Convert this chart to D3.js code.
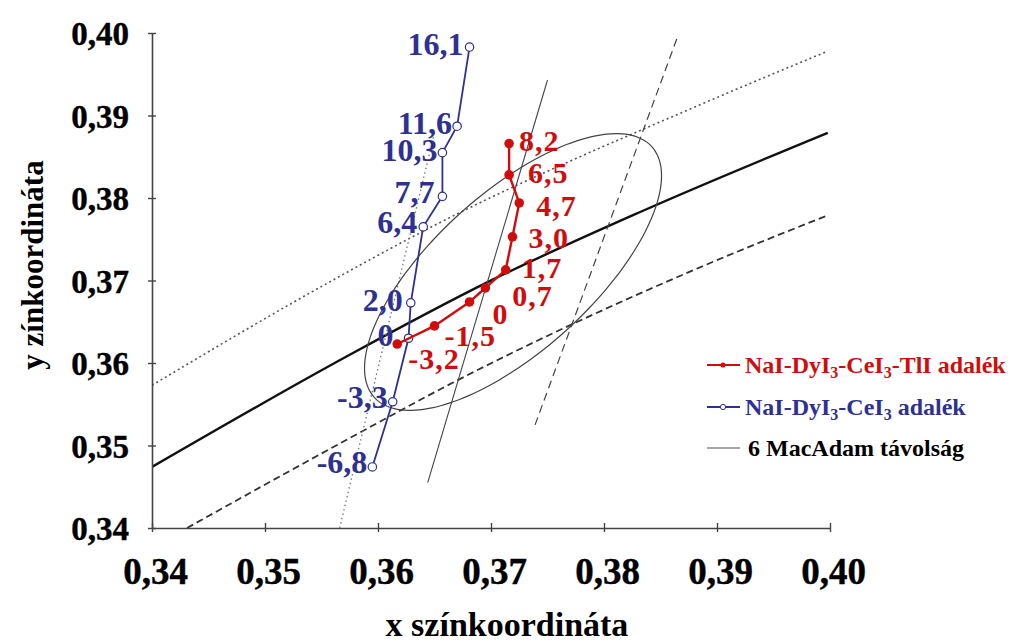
<!DOCTYPE html>
<html lang="hu">
<head>
<meta charset="utf-8">
<title>Színkoordináták</title>
<script src="https://cdnjs.cloudflare.com/ajax/libs/d3/7.8.5/d3.min.js"></script>
<style>
  body { margin: 0; background: #fff; }
  svg { display: block; font-family: "Liberation Serif", "Times New Roman", serif; font-weight: bold; }
  .tick text { font-family: "Liberation Serif", serif; font-weight: bold; fill: #000; stroke: #000; stroke-width: 0.4; }
</style>
</head>
<body>
<div id="chart"></div>
<script>
// tick values
const xTicks = [0.34, 0.35, 0.36, 0.37, 0.38, 0.39, 0.40];
const yTicks = [0.34, 0.35, 0.36, 0.37, 0.38, 0.39, 0.40];

// NaI-DyI3-CeI3-TlI adalék
const redX = [0.3617, 0.3650, 0.3681, 0.3695, 0.3713, 0.3719, 0.3725, 0.3716, 0.3716];
const redY = [0.3623, 0.3645, 0.3674, 0.3691, 0.3713, 0.3753, 0.3794, 0.3828, 0.3866];
const redLabels = ["-3,2", "-1,5", "0", "0,7", "1,7", "3,0", "4,7", "6,5", "8,2"];

// NaI-DyI3-CeI3 adalék
const blueX = [0.3595, 0.3613, 0.3627, 0.3629, 0.3640, 0.3657, 0.3657, 0.3670, 0.3681];
const blueY = [0.3474, 0.3553, 0.3630, 0.3673, 0.3765, 0.3802, 0.3855, 0.3887, 0.3983];
const blueLabels = ["-6,8", "-3,3", "0", "2,0", "6,4", "7,7", "10,3", "11,6", "16,1"];

// Planck-görbe és a ±Duv vonalak
const locusX = [0.3400, 0.3575, 0.3697, 0.3832, 0.3998];
const locusY = [0.3474, 0.3610, 0.3698, 0.3783, 0.3879];
const upperX = [0.3400, 0.3549, 0.3646, 0.3885, 0.3998];
const upperY = [0.3573, 0.3692, 0.3764, 0.3913, 0.3978];
const lowerX = [0.3431, 0.3575, 0.3666, 0.3885, 0.3998];
const lowerY = [0.3400, 0.3509, 0.3576, 0.3716, 0.3779];

// izoterm vonalak [x1, y1, x2, y2]
const isoDotted = [0.3566, 0.3400, 0.3650, 0.3879];
const isoSolid = [0.3644, 0.3455, 0.3750, 0.3943];
const isoDashed = [0.3739, 0.3525, 0.3865, 0.3995];

// 6 MacAdam ellipszis: középpont és két konjugált félátmérő
const ellipseCenter = [0.37195, 0.37103];
const ellipseU = [0.01228, 0.01519];
const ellipseV = [-0.00468, 0.00711];

// label offsets (px)
const redLabelDx = [11, 10, 23, 27, 16, 16, 17, 19, 10];
const redLabelDy = [25, 20, 22, 18, 8, 11, 13, 8, 7];
const blueLabelDx = [-5, -5, -15, -8, -6, -8, -5, -5, -6];
const blueLabelDy = [6, 6, 8, 8, 6, 7, 8, 8, 8];

const W = 1028, H = 642;
const red = "#d00d0d", blue = "#2e3192";

const svg = d3.select("#chart").append("svg")
  .attr("width", W).attr("height", H)
  .attr("viewBox", "0 0 " + W + " " + H);

const x = d3.scaleLinear().domain([0.34, 0.40]).range([152, 830]);
const y = d3.scaleLinear().domain([0.34, 0.40]).range([528, 33]);
const fmt = d => d3.format(".2f")(d).replace(".", ",");

svg.append("clipPath").attr("id", "plot")
  .append("rect").attr("x", 152).attr("y", 20).attr("width", 700).attr("height", 508);

// background lines
const bg = svg.append("g").attr("clip-path", "url(#plot)");
const curve = d3.line().x(d => x(d[0])).y(d => y(d[1])).curve(d3.curveMonotoneX);

bg.append("path").attr("d", curve(d3.zip(upperX, upperY)))
  .attr("fill", "none").attr("stroke", "#555").attr("stroke-width", 1.6).attr("stroke-dasharray", "2,3");
bg.append("path").attr("d", curve(d3.zip(lowerX, lowerY)))
  .attr("fill", "none").attr("stroke", "#333").attr("stroke-width", 1.8).attr("stroke-dasharray", "7,4");
bg.append("path").attr("d", curve(d3.zip(locusX, locusY)))
  .attr("fill", "none").attr("stroke", "#111").attr("stroke-width", 2.4);

const iso = [
  {v: isoDotted, stroke: "#777", w: 1.3, dash: "1.5,3"},
  {v: isoSolid, stroke: "#444", w: 1.1, dash: null},
  {v: isoDashed, stroke: "#444", w: 1.2, dash: "8,5"}
];
bg.selectAll("line.iso").data(iso).join("line").attr("class", "iso")
  .attr("x1", d => x(d.v[0])).attr("y1", d => y(d.v[1]))
  .attr("x2", d => x(d.v[2])).attr("y2", d => y(d.v[3]))
  .attr("stroke", d => d.stroke).attr("stroke-width", d => d.w)
  .attr("stroke-dasharray", d => d.dash);

const ellPts = d3.range(0, 360, 4).map(a => {
  const t = a * Math.PI / 180;
  return [ellipseCenter[0] + Math.cos(t) * ellipseU[0] + Math.sin(t) * ellipseV[0],
          ellipseCenter[1] + Math.cos(t) * ellipseU[1] + Math.sin(t) * ellipseV[1]];
});
bg.append("path")
  .attr("d", d3.line().x(d => x(d[0])).y(d => y(d[1])).curve(d3.curveCardinalClosed)(ellPts))
  .attr("fill", "none").attr("stroke", "#444").attr("stroke-width", 1.2);

// axes
const gx = svg.append("g").attr("transform", "translate(0,528)")
  .call(d3.axisBottom(x).tickValues(xTicks).tickFormat(fmt).tickSizeOuter(0).tickSizeInner(0));
gx.select(".domain").attr("stroke", "#444").attr("stroke-width", 1.6);
gx.selectAll(".tick line").attr("y1", -5).attr("y2", 4).attr("stroke", "#444").attr("stroke-width", 1.4);
gx.selectAll(".tick text").attr("y", 56).attr("dy", null).attr("dx", 3).attr("font-size", 37);

const gy = svg.append("g").attr("transform", "translate(152,0)")
  .call(d3.axisLeft(y).tickValues(yTicks).tickFormat(fmt).tickSizeOuter(0).tickSizeInner(0));
gy.select(".domain").attr("stroke", "#444").attr("stroke-width", 1.6);
gy.selectAll(".tick line").attr("x1", -4).attr("x2", 4).attr("stroke", "#444").attr("stroke-width", 1.4);
gy.selectAll(".tick text").attr("x", -23).attr("dy", "0.36em").attr("font-size", 33);

// axis titles
svg.append("text").attr("x", 507).attr("y", 636).attr("text-anchor", "middle")
  .attr("font-size", 34).text("x színkoordináta");
svg.append("text").attr("transform", "translate(43,265) rotate(-90)").attr("text-anchor", "middle")
  .attr("font-size", 31).text("y zínkoordináta");

// series
const line = d3.line().x(d => x(d[0])).y(d => y(d[1]));
const redPts = d3.zip(redX, redY), bluePts = d3.zip(blueX, blueY);

svg.append("path").attr("d", line(bluePts)).attr("fill", "none")
  .attr("stroke", blue).attr("stroke-width", 1.8);
svg.selectAll("circle.blue").data(bluePts).join("circle").attr("class", "blue")
  .attr("cx", d => x(d[0])).attr("cy", d => y(d[1])).attr("r", 4.2)
  .attr("fill", "#fff").attr("stroke", blue).attr("stroke-width", 1.2);
svg.selectAll("text.blue").data(bluePts).join("text").attr("class", "blue")
  .attr("x", (d, i) => x(d[0]) + blueLabelDx[i]).attr("y", (d, i) => y(d[1]) + blueLabelDy[i])
  .attr("text-anchor", "end").attr("font-size", 32).attr("fill", blue)
  .text((d, i) => blueLabels[i]);

svg.append("path").attr("d", line(redPts)).attr("fill", "none")
  .attr("stroke", red).attr("stroke-width", 2.4);
svg.selectAll("circle.red").data(redPts).join("circle").attr("class", "red")
  .attr("cx", d => x(d[0])).attr("cy", d => y(d[1])).attr("r", 4.8).attr("fill", red);
svg.selectAll("text.red").data(redPts).join("text").attr("class", "red")
  .attr("x", (d, i) => x(d[0]) + redLabelDx[i]).attr("y", (d, i) => y(d[1]) + redLabelDy[i])
  .attr("font-size", 30).attr("letter-spacing", 1).attr("fill", red)
  .text((d, i) => redLabels[i]);

// legend
const legend = [
  {parts: ["NaI-DyI", "3", "-CeI", "3", "-TlI adalék"], color: red, line: red, mark: "dot", y: 365},
  {parts: ["NaI-DyI", "3", "-CeI", "3", " adalék"], color: blue, line: blue, mark: "ring", y: 407},
  {parts: ["6 MacAdam távolság"], color: "#000", line: "#888", mark: null, y: 448}
];
const lg = svg.append("g");
legend.forEach(d => {
  lg.append("line").attr("x1", 707).attr("x2", 740).attr("y1", d.y).attr("y2", d.y)
    .attr("stroke", d.line).attr("stroke-width", d.mark ? 1.8 : 1.4);
  if (d.mark === "dot") lg.append("circle").attr("cx", 723).attr("cy", d.y).attr("r", 2.6).attr("fill", red);
  if (d.mark === "ring") lg.append("circle").attr("cx", 723).attr("cy", d.y).attr("r", 2.6)
    .attr("fill", "#fff").attr("stroke", blue).attr("stroke-width", 1);
  const t = lg.append("text").attr("x", d.mark ? 745 : 748).attr("y", d.y + 8)
    .attr("font-size", 24).attr("fill", d.color);
  d.parts.forEach((p, i) => {
    const sub = p === "3";
    t.append("tspan").text(p)
      .attr("font-size", sub ? 16 : null)
      .attr("dy", sub ? 5 : (i > 0 && d.parts[i - 1] === "3" ? -5 : null));
  });
});
</script>
</body>
</html>
